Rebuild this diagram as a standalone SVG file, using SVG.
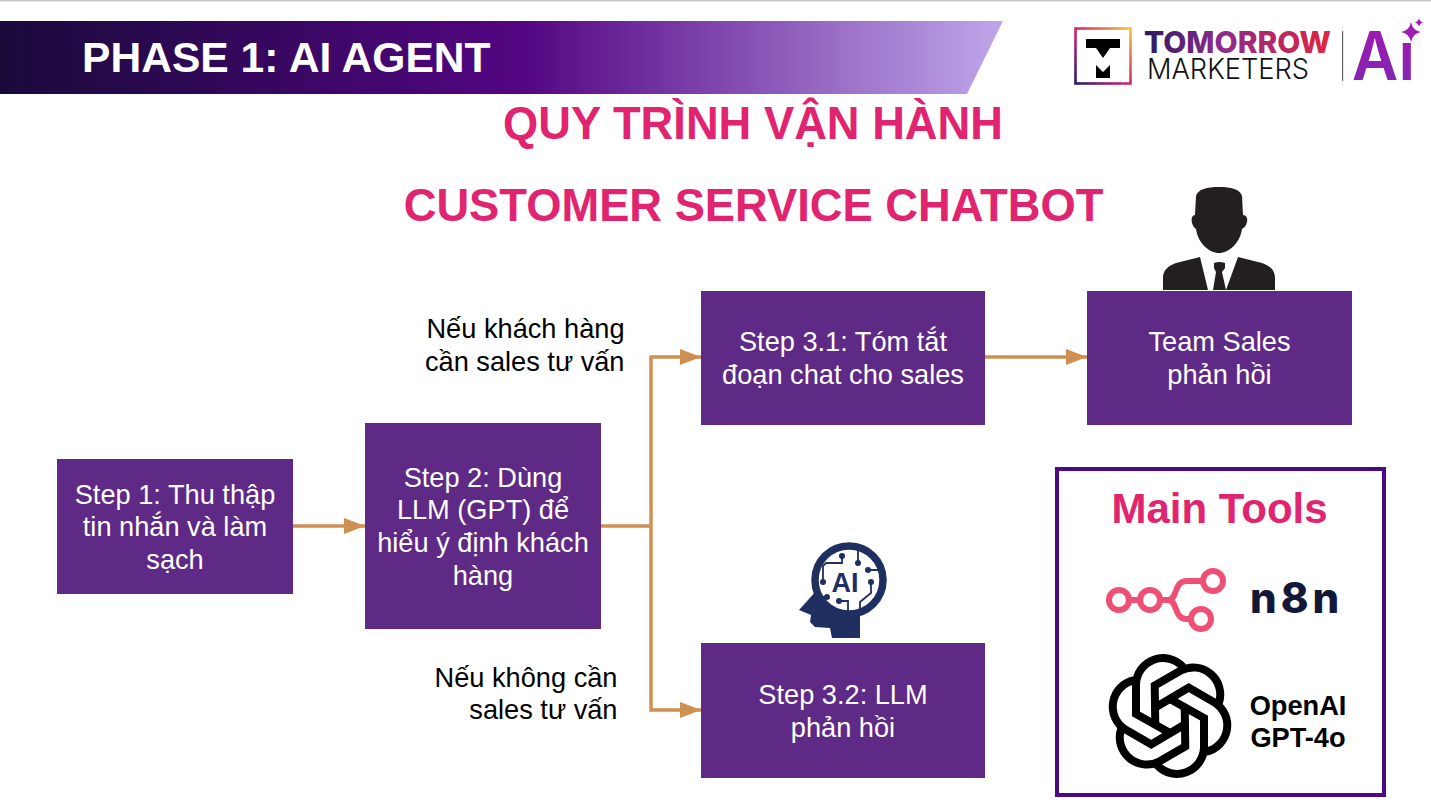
<svg xmlns="http://www.w3.org/2000/svg" width="1431" height="809" viewBox="0 0 1431 809">
<style>
text{font-family:"Liberation Sans",Arial,sans-serif}
.n{fill:#5e2a85}
.t{fill:#fff;font-size:27.2px;text-anchor:middle}
.l{fill:#000;font-size:27.2px;text-anchor:end}
.h{fill:#e0246f;font-weight:700;text-anchor:middle}
.c{fill:none;stroke:#ce8f50;stroke-width:3.4}
.k{fill:none;stroke:#000;stroke-width:8;stroke-linejoin:miter}
.p{fill:none;stroke:#ee4f75;stroke-width:6}
.ai{fill:none;stroke:#1f2f5f;stroke-width:1.8}
.d{fill:#1f2f5f}
</style>
<defs>
<linearGradient id="ban" x1="0" x2="1" y1="0" y2="0"><stop offset="0" stop-color="#190a3a"/><stop offset=".52" stop-color="#530582"/><stop offset="1" stop-color="#bfa6ea"/></linearGradient>
<linearGradient id="tm" gradientUnits="userSpaceOnUse" x1="1144" x2="1331" y1="0" y2="0"><stop offset="0" stop-color="#2b1a5e"/><stop offset=".4" stop-color="#8a2c8c"/><stop offset="1" stop-color="#e0243f"/></linearGradient>
<linearGradient id="sq" x1="0" x2="1" y1="1" y2="0"><stop offset="0" stop-color="#2b1a6a"/><stop offset=".5" stop-color="#d8246f"/><stop offset="1" stop-color="#f5c23e"/></linearGradient>
<linearGradient id="av" x1="0" x2="0" y1="0" y2="1"><stop offset="0" stop-color="#a514b4"/><stop offset="1" stop-color="#7d2bb0"/></linearGradient>
<marker id="a" markerWidth="22" markerHeight="16" refX="21" refY="8" orient="auto" markerUnits="userSpaceOnUse"><path d="M0 0L21 8L0 16Z" fill="#ce8f50"/></marker>
<path id="u" d="M0 17L-34-2V-32A27 27 0 0 1 13-49"/>
</defs>
<rect x="0" y="0" width="1431" height="1.5" fill="#c9c9c9"/>
<g id="banner"><path d="M0 21H1003L967 94H0Z" fill="url(#ban)"/><text x="82" y="72" font-size="42.6" font-weight="700" fill="#fff">PHASE 1: AI AGENT</text></g>
<g id="logo">
<rect x="1075.5" y="28.5" width="55" height="55" fill="#fff" stroke="url(#sq)" stroke-width="2.6"/>
<path d="M1086 39H1120V48H1110L1103 58L1096 48H1086Z M1096 65L1103 72L1110 65V78H1096Z" fill="#000"/>
<text x="1144" y="53" style="font-family:Inter,sans-serif" font-size="30" font-weight="800" fill="url(#tm)" textLength="187" lengthAdjust="spacingAndGlyphs">TOMORROW</text>
<text x="1147" y="79" style="font-family:Inter,sans-serif" font-size="29" font-weight="300" fill="#111" textLength="162" lengthAdjust="spacingAndGlyphs">MARKETERS</text>
<rect x="1342" y="31" width="1.2" height="50" fill="#666"/>
<text x="1352" y="80" style="font-family:Inter,sans-serif" font-size="67" font-weight="600" fill="url(#av)" textLength="63" lengthAdjust="spacingAndGlyphs">Ai</text>
<rect x="1400" y="20" width="24" height="23" fill="#fff"/>
<path d="M1411 22Q1412.500 30.500 1421 32Q1412.500 33.500 1411 42Q1409.500 33.500 1401 32Q1409.500 30.500 1411 22Z M1419 18Q1419.700 21.800 1423.500 22.500Q1419.700 23.200 1419 27Q1418.300 23.200 1414.500 22.500Q1418.300 21.800 1419 18Z" fill="#a01cb4"/>
</g>
<g id="title"><text class="h" x="753" y="139" font-size="45.300">QUY TRÌNH VẬN HÀNH</text><text class="h" x="753.500" y="221" font-size="45.300">CUSTOMER SERVICE CHATBOT</text></g>
<g id="connectors">
<path class="c" d="M293 526H365" marker-end="url(#a)"/>
<path class="c" d="M601 526H651"/>
<path class="c" d="M651 526V357H701" marker-end="url(#a)"/>
<path class="c" d="M651 526V710H701" marker-end="url(#a)"/>
<path class="c" d="M985 357H1087" marker-end="url(#a)"/>
</g>
<g id="step1"><rect class="n" x="57" y="459" width="236" height="135"/><text class="t" x="175" y="504">Step 1: Thu thập</text><text class="t" x="175" y="536">tin nhắn và làm</text><text class="t" x="175" y="569">sạch</text></g>
<g id="step2"><rect class="n" x="365" y="423" width="236" height="206"/><text class="t" x="483" y="487">Step 2: Dùng</text><text class="t" x="483" y="519">LLM (GPT) để</text><text class="t" x="483" y="552">hiểu ý định khách</text><text class="t" x="483" y="585">hàng</text></g>
<g id="step31"><rect class="n" x="701" y="291" width="284" height="134"/><text class="t" x="843" y="351">Step 3.1: Tóm tắt</text><text class="t" x="843" y="384">đoạn chat cho sales</text></g>
<g id="team"><rect class="n" x="1087" y="291" width="265" height="134"/><text class="t" x="1219.500" y="351">Team Sales</text><text class="t" x="1219.500" y="384">phản hồi</text></g>
<g id="step32"><rect class="n" x="701" y="643" width="284" height="135"/><text class="t" x="843" y="704">Step 3.2: LLM</text><text class="t" x="843" y="737">phản hồi</text></g>
<g id="label1"><text class="l" x="624.500" y="338">Nếu khách hàng</text><text class="l" x="624.500" y="371">cần sales tư vấn</text></g>
<g id="label2"><text class="l" x="617.500" y="687">Nếu không cần</text><text class="l" x="617.500" y="719">sales tư vấn</text></g>
<g id="person" fill="#231f20">
<path d="M1219 187C1207 187 1198 189 1196 196L1195 215C1192 215 1191 219 1192 223C1193 226 1194 228 1196 229C1198 243 1209 253 1219 253C1229 253 1240 243 1242 229C1244 228 1246 226 1247 222C1248 218 1246 215 1243 215L1242 196C1240 189 1231 187 1219 187Z"/>
<path d="M1163 290V278C1163 270 1168 266 1176 263L1200 257L1208 290Z M1275 290V278C1275 270 1270 266 1262 263L1238 257L1226 290Z"/>
<path d="M1214 263Q1219 261 1225 263V268L1222 272L1226 290H1213L1216 272L1214 268Z"/>
</g>
<g id="ai-head">
<path class="d" d="M817 590L799 610L811 615L810 622L815 627L830 628L832 638H860V606Z"/>
<circle cx="849" cy="580" r="34" fill="#fff" stroke="#1f2f5f" stroke-width="7.500"/>
<path class="ai" d="M842 556V563H826L823 566V582M858 550V563M868 570H880M871 582V593L860 602V613M827 597H818M839 601H848V613"/>
<g class="d"><circle cx="842" cy="556" r="3"/><circle cx="858" cy="563" r="3"/><circle cx="868" cy="570" r="3"/><circle cx="871" cy="582" r="3"/><circle cx="823" cy="582" r="3"/><circle cx="827" cy="597" r="3"/><circle cx="839" cy="601" r="3"/></g>
<text x="845" y="592" font-size="27" font-weight="700" fill="#1f2f5f" text-anchor="middle">AI</text>
</g>
<g id="tools">
<rect x="1057" y="469" width="327" height="326" fill="#fff" stroke="#4b0a82" stroke-width="4"/>
<text class="h" x="1219.500" y="523" font-size="42">Main Tools</text>
<g id="n8n-mark">
<circle class="p" cx="1119" cy="600" r="10"/><circle class="p" cx="1150" cy="600" r="10"/><circle class="p" cx="1213" cy="581" r="10"/><circle class="p" cx="1201" cy="619" r="10"/>
<path class="p" d="M1129 600H1140M1160 600H1168C1178 600 1173 581 1187 581H1203M1168 600C1178 600 1173 619 1187 619H1191"/>
</g>
<text x="1250" y="613" style="font-family:Inter,sans-serif;letter-spacing:4px" font-size="42" font-weight="800" fill="#141838">n8n</text>
<g id="openai-mark" class="k" transform="translate(1170 716)">
<use href="#u"/><use href="#u" transform="rotate(60)"/><use href="#u" transform="rotate(120)"/><use href="#u" transform="rotate(180)"/><use href="#u" transform="rotate(240)"/><use href="#u" transform="rotate(300)"/>
</g>
<text x="1298" y="715" font-size="27.200" font-weight="700" fill="#000" text-anchor="middle">OpenAI</text>
<text x="1298" y="747" font-size="27.200" font-weight="700" fill="#000" text-anchor="middle">GPT-4o</text>
</g>
</svg>
